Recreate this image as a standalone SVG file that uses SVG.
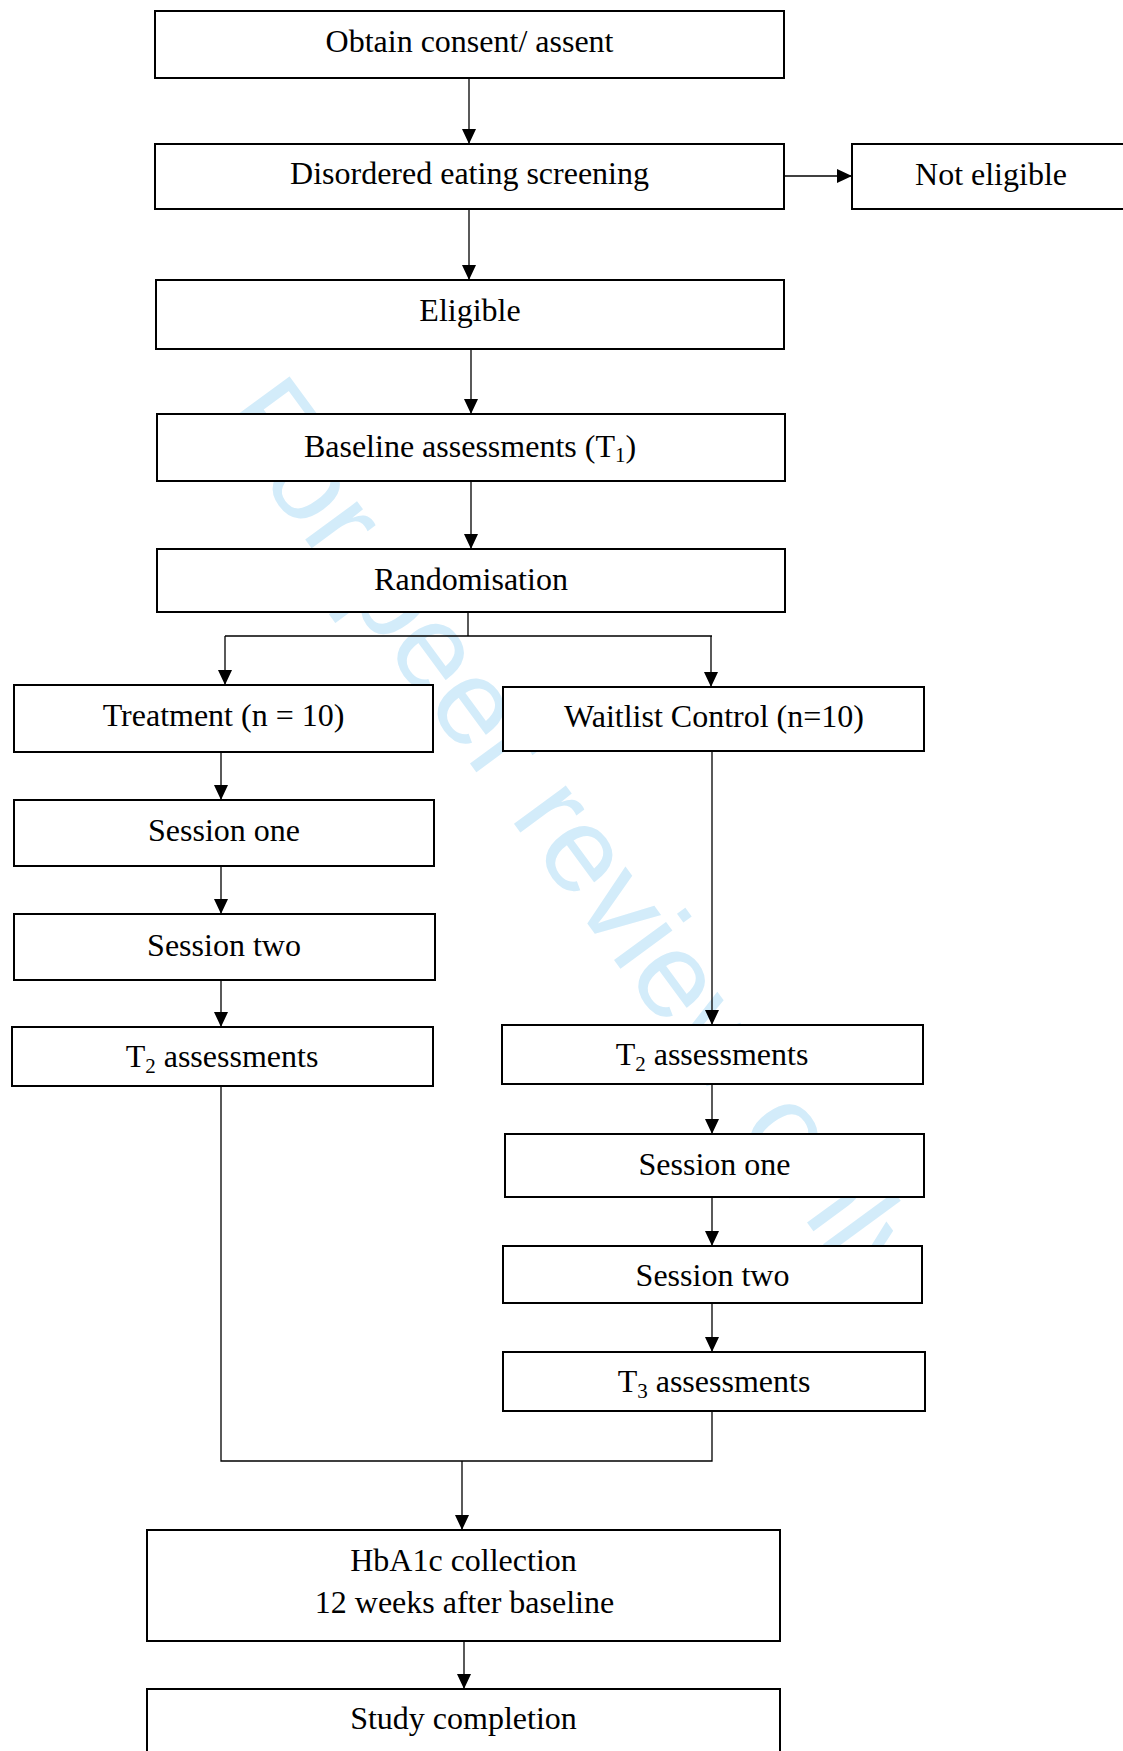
<svg xmlns="http://www.w3.org/2000/svg" width="1123" height="1751" viewBox="0 0 1123 1751">
<style>
.box{fill:#fff;stroke:#000;stroke-width:2}
.lbl{font-family:"Liberation Serif","Times New Roman",serif;font-size:32px;fill:#000;text-anchor:middle}
.sub{font-size:21px}
.con{fill:none;stroke:#000;stroke-width:1.3}
.wm{font-family:"Liberation Sans",Arial,sans-serif;font-size:122px;fill:#d3ecfa}
</style>
<defs>
<marker id="ah" markerUnits="userSpaceOnUse" markerWidth="15" markerHeight="14" refX="15" refY="7" orient="auto">
<path d="M0,0 L15,7 L0,14 z" fill="#000"/>
</marker>
<clipPath id="wmclip"><rect x="0" y="0" width="1123" height="1245"/></clipPath>
</defs>
<rect width="1123" height="1751" fill="#fff"/>
<g id="watermark" clip-path="url(#wmclip)">
<text class="wm" transform="translate(216,418) rotate(53.7)">For peer review only</text>
</g>
<g id="connectors">
<path class="con" marker-end="url(#ah)" d="M469,78 V144"/>
<path class="con" marker-end="url(#ah)" d="M784,176 H852"/>
<path class="con" marker-end="url(#ah)" d="M469,209 V280"/>
<path class="con" marker-end="url(#ah)" d="M471,349 V414"/>
<path class="con" marker-end="url(#ah)" d="M471,481 V549"/>
<path class="con" d="M468,612 V636 M225,636 H712"/>
<path class="con" marker-end="url(#ah)" d="M225,636 V685"/>
<path class="con" marker-end="url(#ah)" d="M711,636 V687"/>
<path class="con" marker-end="url(#ah)" d="M221,752 V800"/>
<path class="con" marker-end="url(#ah)" d="M221,866 V914"/>
<path class="con" marker-end="url(#ah)" d="M221,980 V1027"/>
<path class="con" marker-end="url(#ah)" d="M712,751 V1025"/>
<path class="con" marker-end="url(#ah)" d="M712,1084 V1134"/>
<path class="con" marker-end="url(#ah)" d="M712,1197 V1246"/>
<path class="con" marker-end="url(#ah)" d="M712,1303 V1352"/>
<path class="con" d="M221,1086 V1461 H712 V1411"/>
<path class="con" marker-end="url(#ah)" d="M462,1461 V1530"/>
<path class="con" marker-end="url(#ah)" d="M464,1641 V1689"/>
</g>
<g id="n1"><rect class="box" x="155" y="11" width="629" height="67"/><text class="lbl" x="469.5" y="51.5">Obtain consent/ assent</text></g>
<g id="n2"><rect class="box" x="155" y="144" width="629" height="65"/><text class="lbl" x="469.5" y="184">Disordered eating screening</text></g>
<g id="n3"><rect class="box" x="852" y="144" width="290" height="65"/><text class="lbl" x="991" y="184.5">Not eligible</text></g>
<g id="n4"><rect class="box" x="156" y="280" width="628" height="69"/><text class="lbl" x="470" y="321">Eligible</text></g>
<g id="n5"><rect class="box" x="157" y="414" width="628" height="67"/><text class="lbl" x="470" y="457">Baseline assessments (T<tspan class="sub" dy="5">1</tspan><tspan dy="-5">)</tspan></text></g>
<g id="n6"><rect class="box" x="157" y="549" width="628" height="63"/><text class="lbl" x="471" y="590">Randomisation</text></g>
<g id="n7"><rect class="box" x="14" y="685" width="419" height="67"/><text class="lbl" x="223.5" y="726">Treatment (n = 10)</text></g>
<g id="n8"><rect class="box" x="503" y="687" width="421" height="64"/><text class="lbl" x="714" y="727">Waitlist Control (n=10)</text></g>
<g id="n9"><rect class="box" x="14" y="800" width="420" height="66"/><text class="lbl" x="224" y="841">Session one</text></g>
<g id="n10"><rect class="box" x="14" y="914" width="421" height="66"/><text class="lbl" x="224" y="956">Session two</text></g>
<g id="n11"><rect class="box" x="12" y="1027" width="421" height="59"/><text class="lbl" x="222" y="1067">T<tspan class="sub" dy="6">2</tspan><tspan dy="-6"> assessments</tspan></text></g>
<g id="n12"><rect class="box" x="502" y="1025" width="421" height="59"/><text class="lbl" x="712" y="1065">T<tspan class="sub" dy="6">2</tspan><tspan dy="-6"> assessments</tspan></text></g>
<g id="n13"><rect class="box" x="505" y="1134" width="419" height="63"/><text class="lbl" x="714.5" y="1174.5">Session one</text></g>
<g id="n14"><rect class="box" x="503" y="1246" width="419" height="57"/><text class="lbl" x="712.5" y="1286">Session two</text></g>
<g id="n15"><rect class="box" x="503" y="1352" width="422" height="59"/><text class="lbl" x="714" y="1392">T<tspan class="sub" dy="6">3</tspan><tspan dy="-6"> assessments</tspan></text></g>
<g id="n16"><rect class="box" x="147" y="1530" width="633" height="111"/><text class="lbl" x="463.5" y="1571">HbA1c collection</text><text class="lbl" x="464.5" y="1613">12 weeks after baseline</text></g>
<g id="n17"><rect class="box" x="147" y="1689" width="633" height="80"/><text class="lbl" x="463.5" y="1729">Study completion</text></g>
</svg>
